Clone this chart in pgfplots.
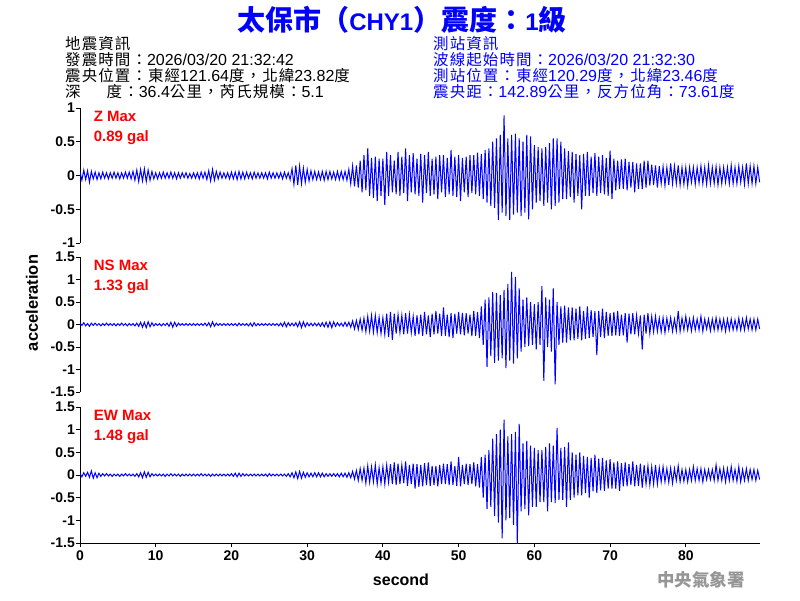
\documentclass[border=0pt]{standalone}
\usepackage{pgfplots}
\pgfplotsset{compat=1.18}
\usepackage{pgfplotstable}
\usepackage{fontspec}
\setmainfont{Liberation Sans}
\newfontfamily\cjk{Noto Sans CJK TC}
\newfontfamily\cjkh[LetterSpace=7]{Noto Sans CJK TC}
\newcommand\C[1]{{\cjkh\fontsize{15.5}{16}\selectfont #1}}
\definecolor{wblue}{RGB}{0,0,255}
\definecolor{wred}{RGB}{255,0,0}
\definecolor{wgray}{RGB}{150,150,150}
\pgfplotstableread{
t z n e
0.00 0.05 0.03 0.03
0.25 -0.07 -0.02 -0.04
0.50 0.08 0.04 0.05
0.75 -0.06 -0.03 -0.03
1.00 0.07 0.02 0.06
1.25 -0.10 -0.04 -0.05
1.50 0.06 0.03 0.09
1.75 -0.05 -0.02 -0.07
2.00 0.05 0.03 0.05
2.25 -0.06 -0.02 -0.06
2.50 0.04 0.02 0.04
2.75 -0.05 -0.03 -0.03
3.00 0.05 0.02 0.03
3.25 -0.04 -0.02 -0.02
3.50 0.04 0.03 0.03
3.75 -0.05 -0.02 -0.02
4.00 0.04 0.02 0.02
4.25 -0.04 -0.02 -0.03
4.50 0.05 0.02 0.02
4.75 -0.04 -0.03 -0.02
5.00 0.04 0.02 0.02
5.25 -0.05 -0.02 -0.03
5.50 0.04 0.03 0.02
5.75 -0.04 -0.02 -0.02
6.00 0.05 0.02 0.03
6.25 -0.04 -0.03 -0.02
6.50 0.05 0.02 0.02
6.75 -0.05 -0.02 -0.02
7.00 0.06 0.02 0.02
7.25 -0.07 -0.03 -0.03
7.50 0.08 0.03 0.03
7.75 -0.09 -0.04 -0.04
8.00 0.09 0.05 0.05
8.25 -0.08 -0.06 -0.06
8.50 0.10 0.05 0.07
8.75 -0.09 -0.07 -0.05
9.00 0.08 0.06 0.06
9.25 -0.07 -0.05 -0.04
9.50 0.06 0.04 0.03
9.75 -0.05 -0.03 -0.02
10.00 0.04 0.02 0.02
10.25 -0.05 -0.02 -0.02
10.50 0.04 0.02 0.02
10.75 -0.04 -0.03 -0.02
11.00 0.05 0.02 0.02
11.25 -0.04 -0.02 -0.03
11.50 0.04 0.03 0.02
11.75 -0.04 -0.04 -0.02
12.00 0.05 0.05 0.03
12.25 -0.04 -0.06 -0.02
12.50 0.04 0.05 0.02
12.75 -0.05 -0.04 -0.02
13.00 0.04 0.03 0.02
13.25 -0.04 -0.02 -0.03
13.50 0.04 0.02 0.02
13.75 -0.03 -0.02 -0.02
14.00 0.04 0.02 0.02
14.25 -0.04 -0.02 -0.02
14.50 0.03 0.02 0.02
14.75 -0.04 -0.02 -0.02
15.00 0.04 0.02 0.02
15.25 -0.04 -0.02 -0.02
15.50 0.04 0.02 0.02
15.75 -0.05 -0.02 -0.02
16.00 0.05 0.02 0.03
16.25 -0.04 -0.02 -0.02
16.50 0.05 0.03 0.02
16.75 -0.06 -0.03 -0.02
17.00 0.07 0.04 0.02
17.25 -0.08 -0.05 -0.03
17.50 0.09 0.06 0.02
17.75 -0.07 -0.04 -0.02
18.00 0.06 0.03 0.02
18.25 -0.05 -0.02 -0.02
18.50 0.05 0.02 0.02
18.75 -0.04 -0.02 -0.02
19.00 0.04 0.02 0.02
19.25 -0.04 -0.02 -0.02
19.50 0.04 0.02 0.02
19.75 -0.05 -0.02 -0.02
20.00 0.05 0.02 0.03
20.25 -0.05 -0.02 -0.03
20.50 0.05 0.02 0.04
20.75 -0.06 -0.03 -0.04
21.00 0.06 0.03 0.04
21.25 -0.05 -0.02 -0.03
21.50 0.05 0.02 0.03
21.75 -0.05 -0.02 -0.02
22.00 0.05 0.02 0.02
22.25 -0.04 -0.03 -0.02
22.50 0.04 0.03 0.02
22.75 -0.05 -0.04 -0.02
23.00 0.05 0.04 0.02
23.25 -0.04 -0.03 -0.02
23.50 0.04 0.02 0.02
23.75 -0.04 -0.02 -0.02
24.00 0.04 0.02 0.02
24.25 -0.04 -0.02 -0.02
24.50 0.04 0.02 0.02
24.75 -0.05 -0.02 -0.03
25.00 0.05 0.02 0.03
25.25 -0.04 -0.02 -0.02
25.50 0.04 0.02 0.02
25.75 -0.04 -0.02 -0.02
26.00 0.04 0.02 0.02
26.25 -0.04 -0.03 -0.02
26.50 0.04 0.03 0.02
26.75 -0.05 -0.04 -0.02
27.00 0.05 0.05 0.02
27.25 -0.04 -0.05 -0.03
27.50 0.04 0.04 0.03
27.75 -0.06 -0.03 -0.04
28.00 0.10 0.03 0.05
28.25 -0.13 -0.03 -0.06
28.50 0.15 0.04 0.07
28.75 -0.14 -0.05 -0.08
29.00 0.14 0.06 0.08
29.25 -0.12 -0.07 -0.07
29.50 0.11 0.06 0.06
29.75 -0.10 -0.05 -0.05
30.00 0.09 0.04 0.05
30.25 -0.08 -0.03 -0.04
30.50 0.07 0.03 0.04
30.75 -0.06 -0.03 -0.04
31.00 0.06 0.03 0.05
31.25 -0.06 -0.03 -0.04
31.50 0.05 0.03 0.05
31.75 -0.06 -0.04 -0.04
32.00 0.06 0.04 0.04
32.25 -0.07 -0.05 -0.04
32.50 0.06 0.05 0.03
32.75 -0.06 -0.06 -0.03
33.00 0.06 0.06 0.03
33.25 -0.05 -0.07 -0.03
33.50 0.05 0.06 0.03
33.75 -0.06 -0.04 -0.03
34.00 0.06 0.04 0.03
34.25 -0.06 -0.03 -0.04
34.50 0.06 0.03 0.04
34.75 -0.06 -0.04 -0.04
35.00 0.06 0.05 0.04
35.25 -0.07 -0.04 -0.05
35.50 0.09 0.05 0.05
35.75 -0.12 -0.06 -0.06
36.00 0.14 0.08 0.08
36.25 -0.16 -0.10 -0.09
36.50 0.15 0.09 0.10
36.75 -0.18 -0.11 -0.12
37.00 0.22 0.12 0.14
37.25 -0.25 -0.13 -0.12
37.50 0.30 0.14 0.15
37.75 -0.22 -0.16 -0.18
38.00 0.40 0.18 0.20
38.25 -0.30 -0.15 -0.16
38.50 0.26 0.20 0.18
38.75 -0.33 -0.17 -0.15
39.00 0.28 0.20 0.22
39.25 -0.38 -0.18 -0.20
39.50 0.25 0.16 0.16
39.75 -0.30 -0.20 -0.18
40.00 0.25 0.15 0.18
40.25 -0.44 -0.22 -0.20
40.50 0.35 0.24 0.22
40.75 -0.30 -0.28 -0.16
41.00 0.30 0.28 0.24
41.25 -0.25 -0.34 -0.20
41.50 0.22 0.24 0.28
41.75 -0.28 -0.20 -0.22
42.00 0.35 0.22 0.25
42.25 -0.30 -0.18 -0.20
42.50 0.28 0.20 0.22
42.75 -0.26 -0.22 -0.18
43.00 0.40 0.25 0.30
43.25 -0.38 -0.20 -0.24
43.50 0.30 0.22 0.22
43.75 -0.25 -0.18 -0.20
44.00 0.33 0.18 0.25
44.25 -0.28 -0.25 -0.30
44.50 0.25 0.20 0.24
44.75 -0.30 -0.22 -0.26
45.00 0.32 0.22 0.22
45.25 -0.40 -0.25 -0.25
45.50 0.30 0.28 0.26
45.75 -0.26 -0.22 -0.22
46.00 0.35 0.20 0.28
46.25 -0.30 -0.28 -0.24
46.50 0.25 0.24 0.20
46.75 -0.28 -0.22 -0.22
47.00 0.28 0.30 0.20
47.25 -0.35 -0.20 -0.25
47.50 0.30 0.24 0.22
47.75 -0.25 -0.26 -0.20
48.00 0.30 0.38 0.25
48.25 -0.32 -0.25 -0.20
48.50 0.26 0.22 0.24
48.75 -0.28 -0.28 -0.22
49.00 0.38 0.25 0.30
49.25 -0.30 -0.30 -0.22
49.50 0.28 0.24 0.20
49.75 -0.32 -0.20 -0.24
50.00 0.30 0.28 0.40
50.25 -0.38 -0.22 -0.25
50.50 0.26 0.26 0.22
50.75 -0.25 -0.24 -0.20
51.00 0.28 0.25 0.25
51.25 -0.32 -0.20 -0.22
51.50 0.30 0.22 0.24
51.75 -0.26 -0.26 -0.20
52.00 0.30 0.30 0.28
52.25 -0.28 -0.25 -0.25
52.50 0.34 0.28 0.24
52.75 -0.30 -0.30 -0.28
53.00 0.32 0.40 0.40
53.25 -0.35 -0.45 -0.50
53.50 0.38 0.55 0.45
53.75 -0.40 -0.94 -0.75
54.00 0.40 0.60 0.55
54.25 -0.45 -0.70 -0.70
54.50 0.50 0.72 0.80
54.75 -0.48 -0.85 -0.90
55.00 0.55 0.70 0.90
55.25 -0.66 -0.80 -1.05
55.50 0.60 0.65 1.00
55.75 -0.55 -0.75 -1.40
56.00 0.89 0.77 1.22
56.25 -0.60 -0.97 -1.00
56.50 0.55 0.90 0.85
56.75 -0.66 -0.80 -0.95
57.00 0.60 1.17 0.90
57.25 -0.58 -0.87 -1.10
57.50 0.62 1.06 0.95
57.75 -0.55 -0.75 -1.52
58.00 0.55 0.80 1.13
58.25 -0.60 -0.60 -0.80
58.50 0.50 0.55 0.70
58.75 -0.55 -0.50 -0.75
59.00 0.60 0.60 0.75
59.25 -0.65 -0.48 -0.89
59.50 0.58 0.50 0.65
59.75 -0.50 -0.45 -0.70
60.00 0.45 0.45 0.60
60.25 -0.40 -0.55 -0.70
60.50 0.42 0.50 0.55
60.75 -0.38 -0.45 -0.60
61.00 0.40 0.86 0.55
61.25 -0.45 -1.25 -0.60
61.50 0.42 0.60 0.62
61.75 -0.40 -0.50 -0.80
62.00 0.48 0.55 0.70
62.25 -0.50 -0.60 -0.60
62.50 0.55 0.80 0.65
62.75 -0.45 -1.33 -0.62
63.00 0.55 0.50 1.04
63.25 -0.40 -0.45 -0.55
63.50 0.50 0.40 0.60
63.75 -0.35 -0.40 -0.55
64.00 0.40 0.42 0.62
64.25 -0.35 -0.40 -0.70
64.50 0.36 0.38 0.72
64.75 -0.32 -0.35 -0.55
65.00 0.35 0.38 0.50
65.25 -0.40 -0.35 -0.50
65.50 0.32 0.35 0.45
65.75 -0.30 -0.32 -0.45
66.00 0.30 0.40 0.50
66.25 -0.50 -0.35 -0.45
66.50 0.32 0.30 0.42
66.75 -0.30 -0.32 -0.40
67.00 0.35 0.40 0.40
67.25 -0.30 -0.30 -0.50
67.50 0.28 0.32 0.38
67.75 -0.26 -0.28 -0.36
68.00 0.33 0.30 0.45
68.25 -0.30 -0.68 -0.40
68.50 0.28 0.30 0.36
68.75 -0.26 -0.28 -0.34
69.00 0.30 0.35 0.38
69.25 -0.28 -0.30 -0.35
69.50 0.26 0.28 0.32
69.75 -0.30 -0.25 -0.30
70.00 0.37 0.25 0.35
70.25 -0.35 -0.25 -0.30
70.50 0.25 0.28 0.28
70.75 -0.22 -0.24 -0.30
71.00 0.22 0.30 0.30
71.25 -0.20 -0.25 -0.35
71.50 0.24 0.22 0.26
71.75 -0.20 -0.24 -0.25
72.00 0.25 0.25 0.28
72.25 -0.22 -0.40 -0.25
72.50 0.20 0.24 0.24
72.75 -0.18 -0.22 -0.22
73.00 0.20 0.25 0.30
73.25 -0.25 -0.22 -0.25
73.50 0.18 0.20 0.22
73.75 -0.20 -0.20 -0.24
74.00 0.18 0.20 0.25
74.25 -0.20 -0.55 -0.28
74.50 0.22 0.22 0.22
74.75 -0.18 -0.20 -0.20
75.00 0.22 0.25 0.20
75.25 -0.15 -0.20 -0.22
75.50 0.16 0.18 0.18
75.75 -0.14 -0.16 -0.20
76.00 0.15 0.18 0.22
76.25 -0.18 -0.15 -0.20
76.50 0.14 0.14 0.16
76.75 -0.12 -0.16 -0.15
77.00 0.13 0.15 0.18
77.25 -0.15 -0.18 -0.15
77.50 0.12 0.14 0.14
77.75 -0.14 -0.12 -0.16
78.00 0.18 0.15 0.15
78.25 -0.12 -0.15 -0.18
78.50 0.14 0.12 0.14
78.75 -0.12 -0.14 -0.12
79.00 0.15 0.30 0.20
79.25 -0.14 -0.15 -0.15
79.50 0.12 0.14 0.12
79.75 -0.13 -0.12 -0.14
80.00 0.12 0.18 0.12
80.25 -0.15 -0.12 -0.15
80.50 0.12 0.12 0.12
80.75 -0.10 -0.14 -0.12
81.00 0.12 0.15 0.18
81.25 -0.13 -0.12 -0.12
81.50 0.12 0.12 0.14
81.75 -0.11 -0.12 -0.12
82.00 0.14 0.18 0.14
82.25 -0.12 -0.15 -0.15
82.50 0.12 0.12 0.12
82.75 -0.13 -0.10 -0.10
83.00 0.15 0.12 0.12
83.25 -0.12 -0.14 -0.10
83.50 0.12 0.12 0.12
83.75 -0.12 -0.12 -0.12
84.00 0.13 0.15 0.22
84.25 -0.14 -0.12 -0.12
84.50 0.12 0.12 0.14
84.75 -0.12 -0.12 -0.12
85.00 0.12 0.12 0.15
85.25 -0.10 -0.15 -0.15
85.50 0.12 0.12 0.14
85.75 -0.12 -0.12 -0.12
86.00 0.15 0.12 0.18
86.25 -0.12 -0.12 -0.12
86.50 0.12 0.10 0.12
86.75 -0.12 -0.12 -0.14
87.00 0.14 0.14 0.18
87.25 -0.10 -0.12 -0.15
87.50 0.12 0.12 0.12
87.75 -0.13 -0.12 -0.12
88.00 0.18 0.15 0.14
88.25 -0.12 -0.10 -0.12
88.50 0.14 0.12 0.12
88.75 -0.12 -0.12 -0.10
89.00 0.14 0.12 0.12
89.25 -0.12 -0.12 -0.12
89.50 0.12 0.12 0.10
89.75 -0.10 -0.10 -0.10
}\wave

\pgfplotsset{
  panel/.style={
    scale only axis, width=680pt, height=135pt,
    xmin=0, xmax=89.8,
    tick align=outside, major tick length=4pt,
    every tick/.style={black, line width=0.8pt},
    axis line style={black, line width=1pt},
    yticklabel style={font=\bfseries\fontsize{14}{14}\selectfont, inner sep=1pt},
    xticklabel style={font=\bfseries\fontsize{14}{14}\selectfont},
    /pgf/number format/assume math mode=true,
  },
  wave/.style={wblue, line width=1pt, mark=none},
}

\begin{document}
\begin{tikzpicture}
\path[use as bounding box] (0pt,0pt) rectangle (800pt,-600pt);

\begin{axis}[panel, at={(80pt,-108pt)}, anchor=north west,
  axis y line*=left, axis x line=none,
  ymin=-1, ymax=1, ytick={-1,-0.5,0,0.5,1}]
\addplot[wave] table[x=t,y=z]{\wave};
\node[anchor=north west, align=left, inner sep=0pt, text=wred,
  font=\bfseries\fontsize{15}{20}\selectfont] at (rel axis cs:0.02,0.98) {Z Max\\0.89 gal};
\end{axis}

\begin{axis}[panel, at={(80pt,-257pt)}, anchor=north west,
  axis y line*=left, axis x line=none,
  ymin=-1.5, ymax=1.5, ytick={-1.5,-1,-0.5,0,0.5,1,1.5}]
\addplot[wave] table[x=t,y=n]{\wave};
\node[anchor=north west, align=left, inner sep=0pt, text=wred,
  font=\bfseries\fontsize{15}{20}\selectfont] at (rel axis cs:0.02,0.98) {NS Max\\1.33 gal};
\end{axis}

\begin{axis}[panel, at={(80pt,-407pt)}, anchor=north west, height=136pt,
  axis y line*=left, axis x line*=bottom, xtick={0,10,...,80},
  ymin=-1.5, ymax=1.5, ytick={-1.5,-1,-0.5,0,0.5,1,1.5}]
\addplot[wave] table[x=t,y=e]{\wave};
\node[anchor=north west, align=left, inner sep=0pt, text=wred,
  font=\bfseries\fontsize{15}{20}\selectfont] at (rel axis cs:0.02,0.98) {EW Max\\1.48 gal};
\end{axis}

\node[text=wblue, font=\bfseries\fontsize{24}{26}\selectfont] at (402pt,-20pt)
  {{\cjk\fontsize{28}{28}\selectfont 太保市（}CHY1{\cjk\fontsize{28}{28}\selectfont ）震度：}1{\cjk\fontsize{28}{28}\selectfont 級}};

\node[anchor=north west, align=left, inner sep=0pt, font=\fontsize{16}{16}\selectfont] at (65pt,-36pt)
  {\C{地震資訊}\\\C{發震時間：}2026/03/20 21:32:42\\\C{震央位置：東經}121.64\C{度，北緯}23.82\C{度}\\\C{深}\hspace{26pt}\C{度：}36.4\C{公里，芮氏規模：}5.1};
\node[anchor=north west, align=left, inner sep=0pt, text=wblue, font=\fontsize{16}{16}\selectfont] at (433pt,-36pt)
  {\C{測站資訊}\\\C{波線起始時間：}2026/03/20 21:32:30\\\C{測站位置：東經}120.29\C{度，北緯}23.46\C{度}\\\C{震央距：}142.89\C{公里，反方位角：}73.61\C{度}};

\node[rotate=90, font=\bfseries\fontsize{16.5}{16}\selectfont] at (32pt,-303pt) {acceleration};
\node[font=\bfseries\fontsize{16}{16}\selectfont] at (401pt,-580pt) {second};
\node[text=wgray, font=\cjk\bfseries\fontsize{17.5}{17}\selectfont] at (701pt,-580pt) {中央氣象署};
\end{tikzpicture}
\end{document}
